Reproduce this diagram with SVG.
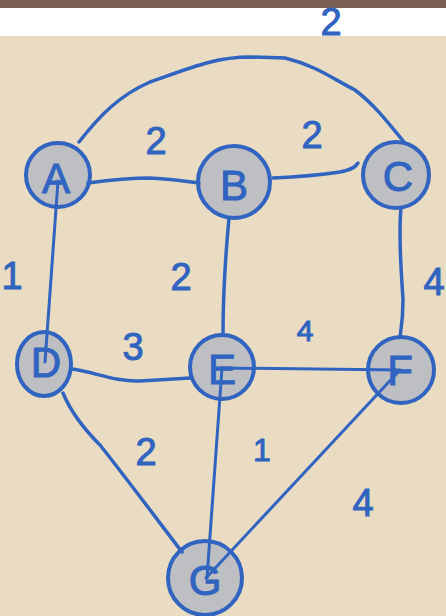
<svg xmlns="http://www.w3.org/2000/svg" width="446" height="616" viewBox="0 0 446 616">
<style>
.e{fill:none;stroke:#3064C0;stroke-width:3.5;stroke-linecap:round;stroke-linejoin:round}
.s{fill:none;stroke:#3064C0;stroke-width:3;stroke-linecap:round}
.n{fill:#BEBFC2;stroke:#3064C0;stroke-width:4}
.t{fill:#3064C0;stroke:#3064C0;stroke-width:1;font-family:"Liberation Sans",Arial,sans-serif;text-anchor:middle;dominant-baseline:central}
.l{font-size:42px}
.w{font-size:38px}
</style>
<rect x="0" y="0" width="446" height="616" fill="#E9DCC2"/>
<rect x="0" y="0" width="446" height="36" fill="#FFFFFF"/>
<rect x="0" y="0" width="446" height="8" fill="#7A5F55"/>
<g id="A"><circle class="n" cx="58" cy="175" r="32"/><text class="t l" x="56" y="178">A</text></g>
<g id="B"><circle class="n" cx="234" cy="182" r="36"/><text class="t l" x="234" y="185">B</text></g>
<g id="C"><circle class="n" cx="396" cy="175" r="33"/><text class="t l" x="398" y="176">C</text></g>
<g id="D"><ellipse class="n" cx="44" cy="364" rx="27" ry="32"/><text class="t l" x="46" y="362">D</text></g>
<g id="E"><circle class="n" cx="222" cy="367" r="32"/><text class="t l" x="222" y="369">E</text></g>
<g id="F"><circle class="n" cx="401" cy="370" r="33"/><text class="t l" x="400" y="370">F</text></g>
<g id="G"><circle class="n" cx="205" cy="578" r="37"/><text class="t l" x="205" y="580">G</text></g>
<g id="connectors">
<path class="e" d="M79,142 C100,115 120,95 150,82 C190,68 215,57 250,57 L285,58 C315,65 335,80 355,90 C375,105 390,125 404,142"/>
<path class="e" d="M88,183 C110,180 130,178 150,178 C170,179 185,181 199,183"/>
<path class="e" d="M273,178 C295,177 320,175 340,172 C350,170 355,168 358,163"/>
<path class="s" d="M58,181 L45,362"/>
<path class="e" d="M229,218 C226,250 223,290 223,335"/>
<path class="e" d="M401,208 C398,240 402,280 403,300 C403,320 401,330 400,337"/>
<path class="e" d="M72,369 C95,372 115,382 140,381 L190,378"/>
<path class="e" d="M63,393 C70,410 80,425 100,445 C120,470 150,510 182,552"/>
<path class="s" d="M222,368 L400,370"/>
<path class="s" d="M400,370 L206,578"/>
<path class="s" d="M222,368 L207,578"/>
</g>
<g id="labels">
<text class="t w" x="331" y="22">2</text>
<text class="t w" x="156" y="141">2</text>
<text class="t w" x="312" y="135">2</text>
<text class="t w" x="12" y="276">1</text>
<text class="t w" x="181" y="277">2</text>
<text class="t w" x="434" y="282">4</text>
<text class="t w" x="133" y="347">3</text>
<text class="t" style="font-size:30px" x="305" y="330">4</text>
<text class="t w" x="146" y="452">2</text>
<text class="t" style="font-size:32px" x="262" y="450">1</text>
<text class="t w" x="363" y="503">4</text>
</g>
</svg>
